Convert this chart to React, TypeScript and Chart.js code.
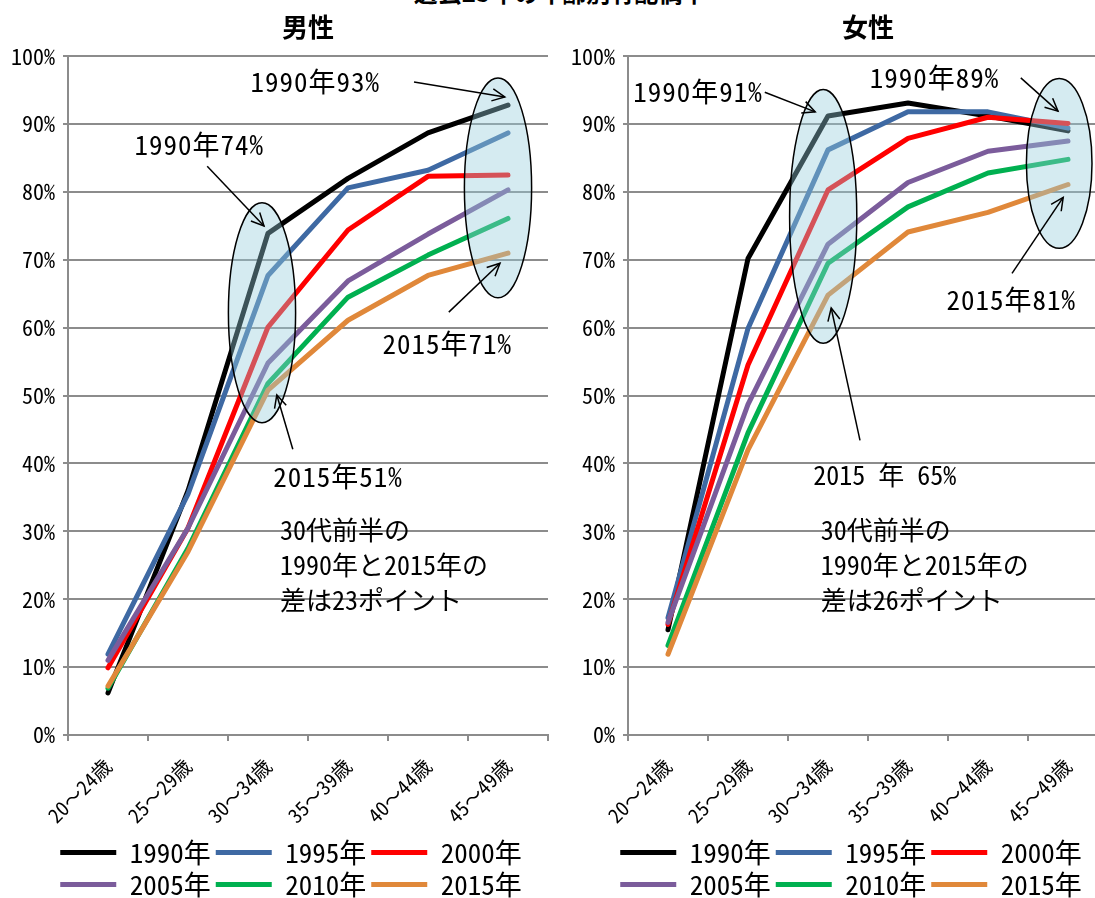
import React, { useEffect, useRef } from 'react';
import { Chart, registerables } from 'chart.js';

Chart.register(...registerables);

// ---- categories / series ----
const ageGroups = ['20～24歳', '25～29歳', '30～34歳', '35～39歳', '40～44歳', '45～49歳'];
const seriesYears = ['1990年', '1995年', '2000年', '2005年', '2010年', '2015年'];
const seriesColors = ['#000000', '#3E69A3', '#FF0000', '#7B5C9B', '#00B050', '#E0883A'];

// ---- 男性 (%) ----
const male1990 = [6.2, 36.0, 73.9, 82.0, 88.7, 92.8];
const male1995 = [11.9, 35.5, 67.7, 80.6, 83.2, 88.7];
const male2000 = [9.9, 30.5, 60.1, 74.4, 82.3, 82.5];
const male2005 = [11.0, 30.5, 54.8, 66.9, 73.8, 80.3];
const male2010 = [6.9, 27.5, 51.8, 64.5, 70.7, 76.1];
const male2015 = [7.2, 27.0, 50.8, 61.1, 67.7, 71.0];

// ---- 女性 (%) ----
const female1990 = [15.5, 70.2, 91.2, 93.1, 91.2, 89.0];
const female1995 = [17.3, 59.9, 86.2, 91.8, 91.8, 89.4];
const female2000 = [16.3, 54.5, 80.3, 87.9, 91.0, 90.1];
const female2005 = [16.6, 48.7, 72.3, 81.4, 86.0, 87.5];
const female2010 = [13.2, 44.5, 69.5, 77.8, 82.8, 84.8];
const female2015 = [11.9, 42.0, 64.8, 74.1, 77.0, 81.1];

const yMin = 0;
const yMax = 100;
const yStep = 10;

// ---- annotations (in data coordinates: x = category index, y = %) ----
type Ellipse = { x: number; y: number; rx: number; ry: number };
type Arrow = { x1: number; y1: number; x2: number; y2: number };
type Note = { x: number; y: number; text: string; align: CanvasTextAlign; body?: boolean };

const maleEllipses: Ellipse[] = [
  { x: 1.925, y: 62.2, rx: 0.42, ry: 16.2 },
  { x: 4.875, y: 80.6, rx: 0.42, ry: 16.2 },
];
const maleArrows: Arrow[] = [
  { x1: 3.825, y1: 96.2, x2: 4.96, y2: 94.0 },
  { x1: 1.24, y1: 83.8, x2: 1.95, y2: 75.0 },
  { x1: 4.26, y1: 62.3, x2: 4.9, y2: 69.5 },
  { x1: 2.31, y1: 42.1, x2: 2.11, y2: 50.1 },
];
const maleNotes: Note[] = [
  { x: 2.59, y: 96.2, text: '1990年93%', align: 'center' },
  { x: 1.14, y: 87.0, text: '1990年74%', align: 'center' },
  { x: 4.24, y: 57.7, text: '2015年71%', align: 'center' },
  { x: 2.875, y: 38.1, text: '2015年51%', align: 'center' },
  { x: 2.15, y: 30.2, text: '30代前半の', align: 'left', body: true },
  { x: 2.15, y: 25.0, text: '1990年と2015年の', align: 'left', body: true },
  { x: 2.15, y: 19.9, text: '差は23ポイント', align: 'left', body: true },
];

const femaleEllipses: Ellipse[] = [
  { x: 1.94, y: 76.4, rx: 0.42, ry: 18.7 },
  { x: 4.89, y: 84.2, rx: 0.41, ry: 12.5 },
];
const femaleArrows: Arrow[] = [
  { x1: 1.21, y1: 94.7, x2: 1.84, y2: 91.8 },
  { x1: 4.41, y1: 96.8, x2: 4.875, y2: 91.9 },
  { x1: 4.3, y1: 68.0, x2: 4.94, y2: 79.2 },
  { x1: 2.4, y1: 43.4, x2: 2.04, y2: 62.9 },
];
const femaleNotes: Note[] = [
  { x: 0.375, y: 94.7, text: '1990年91%', align: 'center' },
  { x: 3.33, y: 96.9, text: '1990年89%', align: 'center' },
  { x: 4.29, y: 64.1, text: '2015年81%', align: 'center' },
  { x: 2.71, y: 38.3, text: '2015 年 65%', align: 'center', body: true },
  { x: 1.91, y: 30.2, text: '30代前半の', align: 'left', body: true },
  { x: 1.91, y: 25.0, text: '1990年と2015年の', align: 'left', body: true },
  { x: 1.91, y: 19.9, text: '差は26ポイント', align: 'left', body: true },
];

const NARROW = '"Noto Sans Mono CJK JP", "Noto Sans CJK JP", sans-serif';
const CJK = '"Noto Sans CJK JP", "Noto Sans", sans-serif';
const GRID = '#8C8C8C';

function makeAnnotationPlugin(ells: Ellipse[], arrows: Arrow[], notes: Note[]) {
  return {
    id: 'notes',
    afterDatasetsDraw(chart: any) {
      const { ctx } = chart;
      const x = chart.scales.x;
      const y = chart.scales.y;
      const ux = x.getPixelForValue(1) - x.getPixelForValue(0);
      const uy = y.getPixelForValue(0) - y.getPixelForValue(1);
      ctx.save();
      ells.forEach((e) => {
        ctx.beginPath();
        ctx.ellipse(x.getPixelForValue(e.x), y.getPixelForValue(e.y), e.rx * ux, e.ry * uy, 0, 0, Math.PI * 2);
        ctx.fillStyle = 'rgba(150,205,220,0.4)';
        ctx.fill();
        ctx.lineWidth = 1.5;
        ctx.strokeStyle = '#000';
        ctx.stroke();
      });
      ctx.lineWidth = 1.5;
      ctx.strokeStyle = '#000';
      ctx.lineCap = 'butt';
      arrows.forEach((a) => {
        const x1 = x.getPixelForValue(a.x1);
        const y1 = y.getPixelForValue(a.y1);
        const x2 = x.getPixelForValue(a.x2);
        const y2 = y.getPixelForValue(a.y2);
        ctx.beginPath();
        ctx.moveTo(x1, y1);
        ctx.lineTo(x2, y2);
        ctx.stroke();
        const ang = Math.atan2(y2 - y1, x2 - x1);
        const hl = 14;
        const ha = Math.PI / 7;
        ctx.beginPath();
        ctx.moveTo(x2 - hl * Math.cos(ang - ha), y2 - hl * Math.sin(ang - ha));
        ctx.lineTo(x2, y2);
        ctx.lineTo(x2 - hl * Math.cos(ang + ha), y2 - hl * Math.sin(ang + ha));
        ctx.stroke();
      });
      ctx.fillStyle = '#000';
      ctx.textBaseline = 'middle';
      notes.forEach((n) => {
        ctx.font = (n.body ? '26px ' : '27px ') + NARROW;
        try { (ctx as any).letterSpacing = n.body ? '0px' : '1px'; } catch (e) { /* ignore */ }
        ctx.textAlign = n.align;
        ctx.fillText(n.text, x.getPixelForValue(n.x), y.getPixelForValue(n.y));
      });
      try { (ctx as any).letterSpacing = '0px'; } catch (e) { /* ignore */ }
      ctx.restore();
    },
  };
}

type PanelProps = {
  left: number;
  title: string;
  series: number[][];
  ells: Ellipse[];
  arrows: Arrow[];
  notes: Note[];
};

function Panel({ left, title, series, ells, arrows, notes }: PanelProps) {
  const ref = useRef<HTMLCanvasElement | null>(null);
  useEffect(() => {
    if (!ref.current) return;
    const chart = new Chart(ref.current, {
      type: 'line',
      data: {
        labels: ageGroups,
        datasets: seriesYears.map((label, i) => ({
          label,
          data: series[i],
          borderColor: seriesColors[i],
          backgroundColor: seriesColors[i],
          borderWidth: 5,
          pointRadius: 0,
          pointHoverRadius: 0,
          tension: 0,
          borderCapStyle: 'round',
          borderJoinStyle: 'round',
          order: seriesYears.length - i,
          yAxisID: 'y',
        })) as any,
      },
      options: {
        responsive: false,
        animation: false,
        devicePixelRatio: 1,
        events: [],
        layout: { padding: 0 },
        plugins: {
          title: {
            display: true,
            text: title,
            fullSize: false,
            color: '#000',
            font: { family: CJK, size: 26, weight: 'bold', lineHeight: 1.2 },
            padding: { top: 12, bottom: 13 },
          },
          legend: {
            position: 'bottom',
            labels: {
              usePointStyle: true,
              pointStyle: 'line',
              pointStyleWidth: 56,
              padding: 5,
              color: '#000',
              font: { family: NARROW, size: 27 },
              sort: (a: any, b: any) => a.datasetIndex - b.datasetIndex,
            },
          },
          tooltip: { enabled: false },
        },
        scales: {
          x: {
            offset: true,
            grid: { offset: true, drawOnChartArea: false, drawTicks: true, tickLength: 6, color: GRID, lineWidth: 2 },
            border: { color: GRID, width: 2 },
            ticks: {
              minRotation: 45,
              maxRotation: 45,
              autoSkip: false,
              color: '#000',
              padding: 13,
              font: { family: NARROW, size: 20 },
            },
            afterFit: (s: any) => { s.height = 99; },
          },
          y: {
            position: 'left',
            min: yMin,
            max: yMax,
            ticks: {
              stepSize: yStep,
              color: '#000',
              padding: 8,
              font: { family: NARROW, size: 22 },
              callback: (v: any) => v + '%',
            },
            grid: { color: GRID, lineWidth: 2, tickLength: 5 },
            border: { color: GRID, width: 2 },
            afterFit: (s: any) => { s.width = 68; },
          },
          yR: {
            position: 'right',
            display: true,
            grid: { display: false },
            border: { display: false },
            ticks: { display: false },
            afterFit: (s: any) => { s.width = 34; },
          },
        },
      } as any,
      plugins: [makeAnnotationPlugin(ells, arrows, notes)],
    });
    return () => chart.destroy();
  }, []);
  return (
    <canvas
      ref={ref}
      width={582}
      height={908}
      style={{ position: 'absolute', left, top: 0, width: 582, height: 908 }}
    />
  );
}

export default function App() {
  return (
    <div
      style={{
        position: 'absolute',
        left: 0,
        top: 0,
        width: 1095,
        height: 898,
        overflow: 'hidden',
        background: '#fff',
      }}
    >
      <div
        style={{
          position: 'absolute',
          left: 0,
          width: 1120,
          top: -22,
          height: 28,
          lineHeight: '28px',
          textAlign: 'center',
          fontFamily: CJK,
          fontWeight: 'bold',
          fontSize: 24,
          color: '#000',
          whiteSpace: 'nowrap',
        }}
      >
        過去25年の年齢別有配偶率
      </div>
      <Panel
        left={0}
        title="男性"
        series={[male1990, male1995, male2000, male2005, male2010, male2015]}
        ells={maleEllipses}
        arrows={maleArrows}
        notes={maleNotes}
      />
      <Panel
        left={560}
        title="女性"
        series={[female1990, female1995, female2000, female2005, female2010, female2015]}
        ells={femaleEllipses}
        arrows={femaleArrows}
        notes={femaleNotes}
      />
    </div>
  );
}
